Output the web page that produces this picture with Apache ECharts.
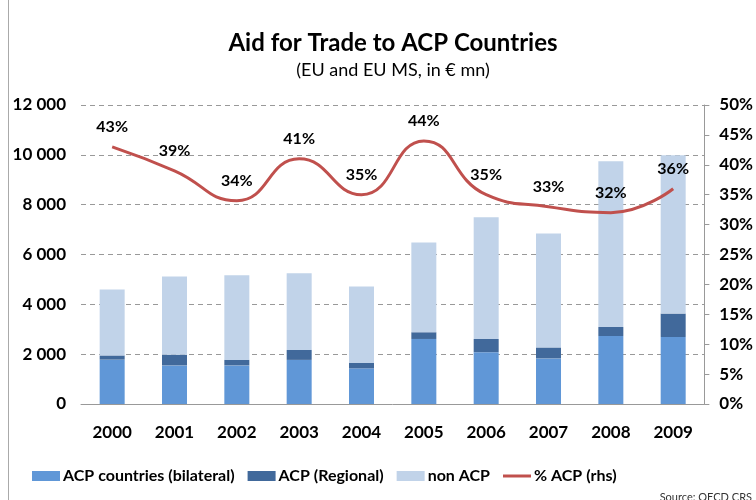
<!DOCTYPE html>
<html>
<head>
<meta charset="utf-8">
<script src="https://cdn.jsdelivr.net/npm/echarts@6/dist/echarts.min.js"></script>
<style>
html, body { margin: 0; padding: 0; background: #fff; }
#chart { width: 756px; height: 500px; }
</style>
</head>
<body>
<div id="chart"></div>
<script>
// data
var years = ['2000', '2001', '2002', '2003', '2004', '2005', '2006', '2007', '2008', '2009'];
var acpBilateral = [1780, 1550, 1550, 1770, 1430, 2610, 2080, 1830, 2730, 2690];
var acpRegional = [170, 430, 220, 400, 220, 270, 530, 440, 360, 940];
var nonAcp = [2650, 3140, 3400, 3080, 3070, 3600, 4880, 4570, 6650, 6350];
var pctAcp = [43, 39, 34, 41, 35, 44, 35, 33, 32, 36];

var font = 'Lato, "Open Sans", sans-serif';
var lineRed = '#c0504d';

var myChart = echarts.init(document.getElementById('chart'));

var option = {
    backgroundColor: '#fff',
    textStyle: { fontFamily: font },
    title: {
        text: 'Aid for Trade to ACP Countries',
        subtext: '(EU and EU MS, in € mn)',
        left: 388,
        textAlign: 'center',
        top: 26,
        itemGap: 6,
        textStyle: { fontFamily: font, fontSize: 24, fontWeight: 'bold', color: '#000' },
        subtextStyle: { fontFamily: font, fontSize: 18, color: '#000' }
    },
    legend: {
        bottom: 11,
        left: 27,
        itemWidth: 28,
        itemHeight: 10,
        itemGap: 13,
        formatter: '{b|{name}}',
        textStyle: {
            fontFamily: font, fontSize: 16, color: '#000', padding: [0, 0, 0, -2],
            rich: { b: { fontFamily: font, fontSize: 16, fontWeight: 'bold', color: '#000' } }
        },
        data: [
            { name: 'ACP countries (bilateral)', icon: 'rect' },
            { name: 'ACP (Regional)', icon: 'rect' },
            { name: 'non ACP', icon: 'rect' },
            { name: '% ACP (rhs)', icon: 'path://M0,0 L28,0 L28,3 L0,3 Z', itemStyle: { color: lineRed, opacity: 1 } }
        ]
    },
    grid: {
        left: 81,
        right: 43,
        top: 105,
        bottom: 96
    },
    xAxis: {
        type: 'category',
        data: years,
        axisTick: { show: false },
        axisLine: { lineStyle: { color: '#999' } },
        axisLabel: { fontFamily: font, fontSize: 17, fontWeight: 700, color: '#000', margin: 20 }
    },
    yAxis: [
        {
            type: 'value',
            min: 0,
            max: 12000,
            interval: 2000,
            axisLine: { show: false },
            axisTick: { show: false },
            splitLine: { lineStyle: { color: '#999', type: [5, 4] } },
            axisLabel: {
                fontFamily: font, fontSize: 17, fontWeight: 700, color: '#000', margin: 15,
                formatter: function (v) {
                    return v >= 1000 ? Math.floor(v / 1000) + ' 000' : String(v);
                }
            }
        },
        {
            type: 'value',
            min: 0,
            max: 50,
            interval: 5,
            position: 'right',
            axisLine: { show: true, lineStyle: { color: '#999' } },
            axisTick: { show: true, length: 5, lineStyle: { color: '#999' } },
            splitLine: { show: false },
            axisLabel: {
                fontFamily: font, fontSize: 17, fontWeight: 700, color: '#000', margin: 15,
                formatter: '{value}%'
            }
        }
    ],
    series: [
        {
            name: 'ACP countries (bilateral)',
            type: 'bar',
            stack: 'aid',
            barWidth: 25,
            itemStyle: { color: '#6097d7' },
            data: acpBilateral
        },
        {
            name: 'ACP (Regional)',
            type: 'bar',
            stack: 'aid',
            barWidth: 25,
            itemStyle: { color: '#41699b' },
            data: acpRegional
        },
        {
            name: 'non ACP',
            type: 'bar',
            stack: 'aid',
            barWidth: 25,
            itemStyle: { color: '#c1d3e9' },
            data: nonAcp
        },
        {
            name: '% ACP (rhs)',
            type: 'line',
            yAxisIndex: 1,
            smooth: 0.5,
            symbol: 'circle',
            symbolSize: 2,
            showSymbol: true,
            z: 5,
            lineStyle: { color: lineRed, width: 3 },
            itemStyle: { color: 'rgba(0,0,0,0)' },
            label: {
                show: true,
                position: 'top',
                distance: 11,
                fontFamily: font,
                fontSize: 16,
                fontWeight: 700,
                color: '#000',
                formatter: '{c}%'
            },
            data: pctAcp
        }
    ],
    graphic: [
        {
            type: 'line',
            shape: { x1: 8.5, y1: 0, x2: 8.5, y2: 500 },
            style: { stroke: '#aaa', lineWidth: 1 }
        },
        {
            type: 'text',
            right: 4,
            bottom: -3,
            style: { text: 'Source: OECD CRS', font: '11px ' + font, fill: '#333' }
        }
    ]
};

myChart.setOption(option);
</script>
</body>
</html>
